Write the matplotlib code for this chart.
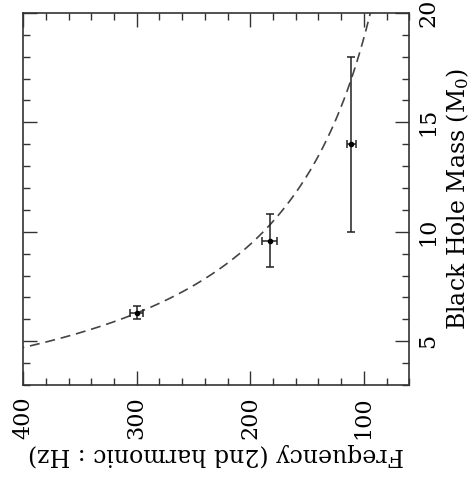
import matplotlib
matplotlib.use("Agg")
import matplotlib.pyplot as plt
import numpy as np
from matplotlib.ticker import MultipleLocator

plt.rcParams['font.family'] = ['DejaVu Serif']
plt.rcParams['mathtext.fontset'] = 'dejavuserif'

# measured points: frequency (Hz) vs black hole mass
freq = [300, 183, 111]
freq_err = [6, 7, 4]
mass = [6.3, 9.6, 14.0]
mass_err = [0.3, 1.2, 4.0]

# f = C / M relation drawn as dashed line
C_REL = 1885.0
mass_curve = np.linspace(3.0, 20.5, 300)

fig = plt.figure(figsize=(4.72, 4.8), dpi=100)
ax = fig.add_axes([0.049, 0.198, 0.818, 0.775])

ax.plot(C_REL / mass_curve, mass_curve, color='#444444', lw=1.2,
        dashes=(6, 3.5))
ax.errorbar(freq, mass, xerr=freq_err, yerr=mass_err, fmt='o', ms=3,
            color='black', ecolor='#222222', elinewidth=1.1, capsize=3,
            capthick=1.1)

ax.set_xlim(400, 60)
ax.set_ylim(3, 20)
ax.xaxis.set_major_locator(MultipleLocator(100))
ax.xaxis.set_minor_locator(MultipleLocator(20))
ax.yaxis.set_major_locator(MultipleLocator(5))
ax.yaxis.set_minor_locator(MultipleLocator(1))

ax.tick_params(which='both', direction='in', top=True, bottom=True,
               left=True, right=True, labelleft=False, labelright=True,
               width=1.0, colors='#333333', labelcolor='black',
               labelsize=16)
ax.tick_params(which='major', length=10)
ax.tick_params(which='minor', length=5)
ax.tick_params(axis='x', which='both', pad=8)
ax.tick_params(axis='y', which='both', pad=6)
for lab in ax.get_xticklabels():
    lab.set_rotation(90)
for lab in ax.get_yticklabels():
    lab.set_rotation(90)
    lab.set_verticalalignment('center')

ax.set_xlabel('Frequency (2nd harmonic : Hz)', fontsize=17, rotation=180,
              labelpad=3)
ax.yaxis.set_label_position('right')
ax.set_ylabel('Black Hole Mass (M$_0$)', fontsize=17, rotation=90,
              labelpad=3)

for sp in ax.spines.values():
    sp.set_linewidth(1.2)
    sp.set_color('#333333')

fig.savefig('out.png', dpi=100)
